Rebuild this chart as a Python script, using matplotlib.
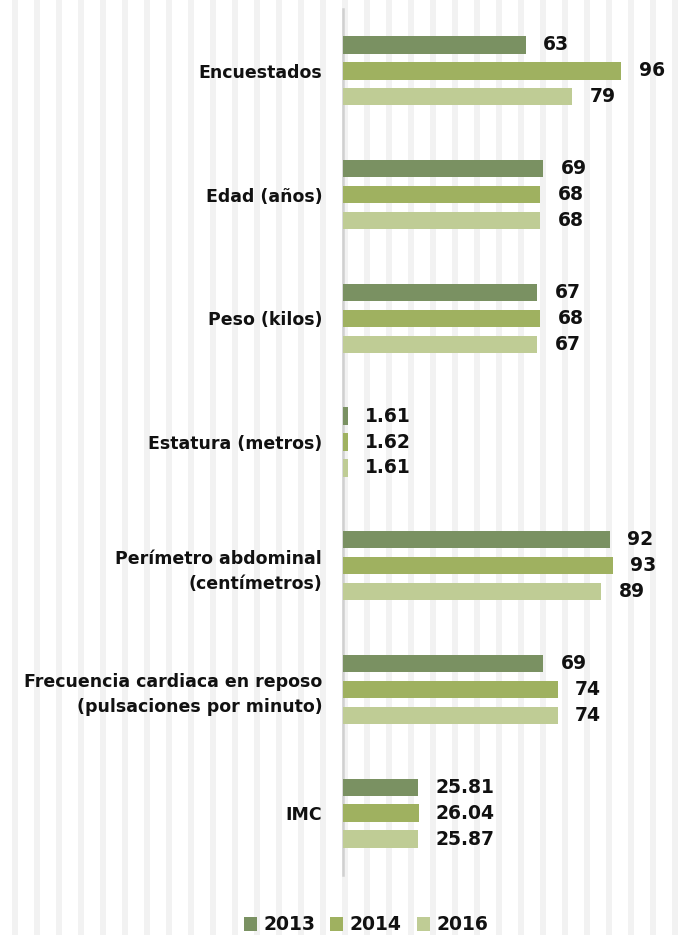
import numpy as np
import matplotlib.pyplot as plt
from matplotlib.patches import Rectangle

plt.rcParams["font.family"] = ["DejaVu Sans"]

# Datos de la encuesta por año
categorias = ["Encuestados", "Edad (años)", "Peso (kilos)", "Estatura (metros)",
              "Perímetro abdominal\n(centímetros)",
              "Frecuencia cardiaca en reposo\n(pulsaciones por minuto)", "IMC"]
anios = ["2013", "2014", "2016"]
v2013 = [63, 69, 67, 1.61, 92, 69, 25.81]
v2014 = [96, 68, 68, 1.62, 93, 74, 26.04]
v2016 = [79, 68, 67, 1.61, 89, 74, 25.87]
etiquetas = [
    ["63", "69", "67", "1.61", "92", "69", "25.81"],
    ["96", "68", "68", "1.62", "93", "74", "26.04"],
    ["79", "68", "67", "1.61", "89", "74", "25.87"],
]
colores = ["#7a9162", "#9fb160", "#bfcc95"]

W, H = 678, 935
fig = plt.figure(figsize=(W / 100, H / 100), dpi=100)

# fondo de franjas verticales
fondo = fig.add_axes([0, 0, 1, 1], zorder=-10)
fondo.set_xlim(0, W)
fondo.set_ylim(0, H)
fondo.axis("off")
for x0 in range(12, W, 22):
    fondo.add_patch(Rectangle((x0, 0), 6, H, color="#f2f2f2", lw=0))

x0_px, x1_px = 343, 660
y_top, y_bot = 9, 875
ax = fig.add_axes([x0_px / W, 1 - y_bot / H, (x1_px - x0_px) / W, (y_bot - y_top) / H])
ax.patch.set_alpha(0)
ax.set_xlim(0, (x1_px - x0_px) / 2.9)
ax.set_ylim(len(categorias) - 0.5, -0.5)

y = np.arange(len(categorias))
alto = 0.14
sep = 0.21
series = [v2013, v2014, v2016]
for i, (vals, col, anio) in enumerate(zip(series, colores, anios)):
    pos = y + (i - 1) * sep
    ax.barh(pos, vals, height=alto, color=col, label=anio, zorder=3)
    for p, v, t in zip(pos, vals, etiquetas[i]):
        ax.annotate(t, (v, p), xytext=(12.5, 0), textcoords="offset points",
                    va="center", ha="left", fontsize=13.5, fontweight="bold",
                    color="#111111")

ax.set_yticks(y)
ax.set_yticklabels(categorias, fontsize=12.5, fontweight="bold", color="#111111",
                   linespacing=1.5)
ax.tick_params(axis="y", length=0, pad=15)
ax.set_xticks([])
for s in ["top", "right", "bottom"]:
    ax.spines[s].set_visible(False)
ax.spines["left"].set_color("#d0d0d0")
ax.spines["left"].set_linewidth(1.8)

leg = fig.legend(loc="center", bbox_to_anchor=(366 / W, 1 - 925 / H), ncol=3,
                 frameon=False, handlelength=0.7, handleheight=0.7,
                 handletextpad=0.35, columnspacing=0.8,
                 prop={"weight": "bold", "size": 13.5})
for t in leg.get_texts():
    t.set_color("#111111")

plt.savefig("out.png", dpi=100)
